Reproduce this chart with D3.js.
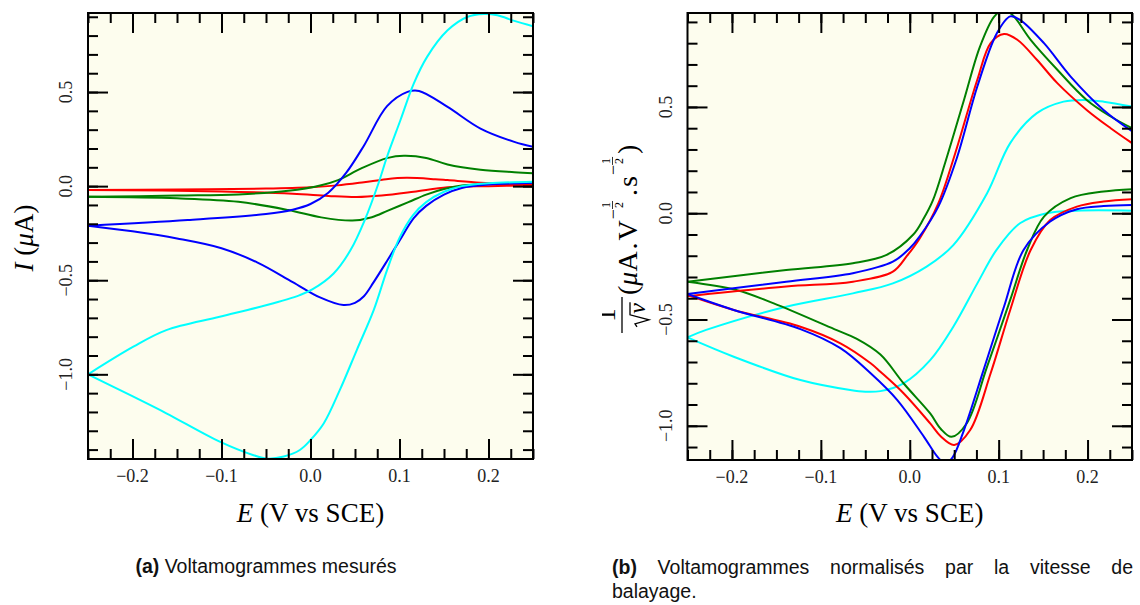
<!DOCTYPE html>
<html>
<head>
<meta charset="utf-8">
<script src="https://cdn.jsdelivr.net/npm/d3@7"></script>
<style>
body { margin: 0; background: #fff; }
svg { display: block; }
</style>
</head>
<body>
<script>
// scan rates, slowest to fastest
var scanColors = ["red", "green", "blue", "cyan"];

// (a) measured voltammograms, [E (V vs SCE), I (uA)]
var measRedFwd = [[-0.25,-0.020],[-0.15,-0.018],[-0.05,-0.013],[0.0,-0.006],[0.03,0.004],[0.06,0.021],[0.085,0.037],[0.108,0.044],[0.14,0.037],[0.154,0.032],[0.191,0.018],[0.229,0.009],[0.25,0.007]];
var measRedRev = [[0.25,0.003],[0.2,0.0],[0.154,-0.006],[0.116,-0.030],[0.08,-0.050],[0.052,-0.058],[0.02,-0.052],[-0.02,-0.040],[-0.1,-0.028],[-0.25,-0.020]];
var measGreenFwd = [[-0.25,-0.057],[-0.15,-0.050],[-0.081,-0.044],[-0.025,-0.025],[0.012,0.005],[0.031,0.032],[0.057,0.094],[0.087,0.150],[0.105,0.161],[0.13,0.150],[0.154,0.115],[0.191,0.087],[0.229,0.074],[0.25,0.069]];
var measGreenRev = [[0.25,0.018],[0.2,0.013],[0.17,0.003],[0.15,-0.015],[0.13,-0.045],[0.11,-0.085],[0.087,-0.130],[0.069,-0.165],[0.047,-0.183],[0.012,-0.166],[-0.025,-0.127],[-0.081,-0.083],[-0.15,-0.065],[-0.25,-0.057]];
var measBlueFwd = [[-0.25,-0.210],[-0.138,-0.180],[-0.05,-0.148],[-0.02,-0.125],[0.0,-0.095],[0.02,-0.035],[0.04,0.070],[0.06,0.215],[0.086,0.425],[0.109,0.501],[0.122,0.506],[0.154,0.421],[0.191,0.306],[0.229,0.235],[0.25,0.209]];
var measBlueRev = [[0.25,0.018],[0.2,0.008],[0.17,-0.010],[0.15,-0.045],[0.13,-0.105],[0.116,-0.170],[0.1,-0.290],[0.087,-0.390],[0.071,-0.510],[0.06,-0.585],[0.05,-0.620],[0.037,-0.632],[0.01,-0.590],[-0.02,-0.510],[-0.06,-0.405],[-0.1,-0.330],[-0.15,-0.278],[-0.2,-0.240],[-0.25,-0.210]];
var measCyanFwd = [[-0.25,-1.0],[-0.199,-0.853],[-0.162,-0.765],[-0.102,-0.694],[-0.049,-0.632],[-0.012,-0.579],[0.002,-0.549],[0.026,-0.464],[0.045,-0.340],[0.061,-0.180],[0.076,0.010],[0.086,0.156],[0.101,0.350],[0.116,0.545],[0.131,0.687],[0.154,0.828],[0.176,0.899],[0.195,0.915],[0.21,0.908],[0.229,0.878],[0.25,0.850]];
var measCyanRev = [[0.25,0.023],[0.2,0.015],[0.17,0.0],[0.15,-0.030],[0.13,-0.085],[0.115,-0.155],[0.1,-0.275],[0.086,-0.446],[0.071,-0.659],[0.052,-0.871],[0.033,-1.083],[0.015,-1.260],[0.0,-1.349],[-0.012,-1.402],[-0.03,-1.437],[-0.049,-1.448],[-0.064,-1.430],[-0.102,-1.358],[-0.162,-1.207],[-0.199,-1.119],[-0.25,-1.0]];

// (b) normalised by sqrt(scan rate)
var normRedFwd = [[-0.25,-0.390],[-0.139,-0.345],[-0.064,-0.322],[-0.019,-0.275],[-0.003,-0.200],[0.011,-0.120],[0.032,0.045],[0.051,0.280],[0.076,0.628],[0.091,0.800],[0.106,0.843],[0.121,0.816],[0.143,0.722],[0.166,0.612],[0.199,0.486],[0.226,0.400],[0.25,0.330]];
var normRedRev = [[0.25,0.066],[0.218,0.055],[0.188,0.031],[0.158,-0.032],[0.136,-0.173],[0.113,-0.455],[0.091,-0.753],[0.068,-1.020],[0.05,-1.090],[0.035,-1.050],[0.023,-0.989],[-0.007,-0.847],[-0.033,-0.746],[-0.044,-0.706],[-0.078,-0.612],[-0.123,-0.534],[-0.198,-0.455],[-0.25,-0.385]];
var normGreenFwd = [[-0.25,-0.322],[-0.139,-0.267],[-0.064,-0.235],[-0.026,-0.196],[0.004,-0.100],[0.015,-0.030],[0.026,0.060],[0.040,0.240],[0.061,0.533],[0.079,0.784],[0.095,0.925],[0.105,0.955],[0.115,0.935],[0.136,0.816],[0.166,0.675],[0.199,0.533],[0.226,0.455],[0.25,0.400]];
var normGreenRev = [[0.25,0.113],[0.218,0.102],[0.181,0.071],[0.151,-0.016],[0.132,-0.173],[0.113,-0.408],[0.087,-0.722],[0.064,-0.989],[0.047,-1.052],[0.035,-1.015],[0.023,-0.942],[-0.007,-0.800],[-0.033,-0.665],[-0.06,-0.590],[-0.085,-0.545],[-0.153,-0.424],[-0.195,-0.361],[-0.25,-0.322]];
var normBlueFwd = [[-0.25,-0.380],[-0.139,-0.322],[-0.064,-0.282],[-0.019,-0.228],[0.0,-0.165],[0.011,-0.110],[0.032,0.030],[0.053,0.260],[0.076,0.596],[0.098,0.847],[0.113,0.926],[0.124,0.910],[0.151,0.800],[0.181,0.643],[0.218,0.486],[0.25,0.386]];
var normBlueRev = [[0.25,0.039],[0.218,0.034],[0.188,0.019],[0.158,-0.039],[0.128,-0.173],[0.106,-0.440],[0.083,-0.738],[0.061,-1.020],[0.048,-1.150],[0.04,-1.175],[0.032,-1.150],[0.016,-1.052],[-0.014,-0.879],[-0.044,-0.753],[-0.078,-0.635],[-0.123,-0.545],[-0.198,-0.455],[-0.25,-0.380]];
var normCyanFwd = [[-0.25,-0.584],[-0.229,-0.549],[-0.139,-0.440],[-0.064,-0.377],[-0.019,-0.330],[0.019,-0.251],[0.049,-0.150],[0.087,0.094],[0.113,0.330],[0.143,0.471],[0.173,0.525],[0.196,0.533],[0.218,0.525],[0.25,0.502]];
var normCyanRev = [[0.25,0.012],[0.188,0.012],[0.154,0.0],[0.124,-0.047],[0.098,-0.170],[0.076,-0.330],[0.049,-0.534],[0.023,-0.691],[-0.007,-0.800],[-0.033,-0.837],[-0.05,-0.840],[-0.067,-0.832],[-0.123,-0.785],[-0.198,-0.675],[-0.25,-0.584]];

// tick values
var xMajor = [-0.2, -0.1, 0.0, 0.1, 0.2];
var xMinor = d3.range(-10, 11).map(k => k * 0.025);
var yMajor = [-1.0, -0.5, 0.0, 0.5];

var svg = d3.select("body").append("svg")
    .attr("width", 1140)
    .attr("height", 605);
var defs = svg.append("defs");

var fmt = d3.format(".1f");

function panel(id, xr, yDomain, yr, series, labelX) {
    var x = d3.scaleLinear([-0.25, 0.25], xr);
    var y = d3.scaleLinear(yDomain, yr);
    var g = svg.append("g");

    g.append("rect")
        .attr("x", xr[0]).attr("y", yr[1])
        .attr("width", xr[1] - xr[0]).attr("height", yr[0] - yr[1])
        .attr("fill", "#fdfdee");

    defs.append("clipPath").attr("id", "clip" + id)
        .append("rect")
        .attr("x", xr[0]).attr("y", yr[1])
        .attr("width", xr[1] - xr[0]).attr("height", yr[0] - yr[1]);

    var line = d3.line()
        .x(d => x(d[0]))
        .y(d => y(d[1]))
        .curve(d3.curveCatmullRom.alpha(0.5));

    var curves = g.append("g").attr("clip-path", "url(#clip" + id + ")")
        .attr("fill", "none").attr("stroke-width", 2);
    series.forEach(s => {
        curves.append("path").attr("stroke", s.color).attr("d", line(s.fwd));
        curves.append("path").attr("stroke", s.color).attr("d", line(s.rev));
    });

    var yMinor = d3.range(-15, 10).map(k => k / 10)
        .filter(v => v >= yDomain[0] && v <= yDomain[1]);

    function ticks(axisFn, scale, values, size, tr) {
        var a = g.append("g").attr("transform", tr)
            .call(axisFn(scale).tickValues(values).tickSize(-size).tickFormat(""));
        a.select(".domain").remove();
        a.selectAll("line").attr("stroke", "#000").attr("stroke-width", 2);
    }
    [[xMinor, 10], [xMajor, 20]].forEach(([v, s]) => {
        ticks(d3.axisBottom, x, v, s, `translate(0,${yr[0]})`);
        ticks(d3.axisTop, x, v, s, `translate(0,${yr[1]})`);
    });
    [[yMinor, 10], [yMajor, 20]].forEach(([v, s]) => {
        ticks(d3.axisLeft, y, v, s, `translate(${xr[0]},0)`);
        ticks(d3.axisRight, y, v, s, `translate(${xr[1]},0)`);
    });

    g.append("rect")
        .attr("x", xr[0]).attr("y", yr[1])
        .attr("width", xr[1] - xr[0]).attr("height", yr[0] - yr[1])
        .attr("fill", "none").attr("stroke", "#000").attr("stroke-width", 2);

    // tick labels
    g.append("g").selectAll("text").data(xMajor).join("text")
        .attr("x", d => x(d)).attr("y", yr[0] + 23)
        .attr("text-anchor", "middle")
        .attr("font-family", "Liberation Serif").attr("font-size", 18)
        .attr("fill", "#222")
        .text(d => fmt(d));
    g.append("g").selectAll("text").data(yMajor).join("text")
        .attr("transform", d => `translate(${labelX},${y(d)}) rotate(-90)`)
        .attr("text-anchor", "middle")
        .attr("font-family", "Liberation Serif").attr("font-size", 18)
        .attr("fill", "#222")
        .text(d => fmt(d));

    // x title
    var t = g.append("text")
        .attr("x", x(0)).attr("y", 522)
        .attr("text-anchor", "middle")
        .attr("font-family", "Liberation Serif").attr("font-size", 27);
    t.append("tspan").attr("font-style", "italic").text("E");
    t.append("tspan").text(" (V vs SCE)");
    return g;
}

panel("a", [88, 533], [-1.45, 0.92], [459, 13], [
    { color: scanColors[0], fwd: measRedFwd, rev: measRedRev },
    { color: scanColors[1], fwd: measGreenFwd, rev: measGreenRev },
    { color: scanColors[2], fwd: measBlueFwd, rev: measBlueRev },
    { color: scanColors[3], fwd: measCyanFwd, rev: measCyanRev }
], 72);

panel("b", [687.5, 1132], [-1.161, 0.942], [460, 13], [
    { color: scanColors[3], fwd: normCyanFwd, rev: normCyanRev },
    { color: scanColors[1], fwd: normGreenFwd, rev: normGreenRev },
    { color: scanColors[0], fwd: normRedFwd, rev: normRedRev },
    { color: scanColors[2], fwd: normBlueFwd, rev: normBlueRev }
], 672);

// y title (a)
var ya = svg.append("text")
    .attr("transform", "translate(33,238) rotate(-90)")
    .attr("text-anchor", "middle")
    .attr("font-family", "Liberation Serif").attr("font-size", 27);
ya.append("tspan").attr("font-style", "italic").text("I");
ya.append("tspan").text(" (");
ya.append("tspan").attr("font-style", "italic").text("\u03bc");
ya.append("tspan").text("A)");

// y title (b): 1/sqrt(v) (uA.V^-1/2.s^-1/2)
defs.append("clipPath").attr("id", "clipLab")
    .append("rect").attr("x", 602).attr("y", 0).attr("width", 538).attr("height", 605);
var yb = svg.append("g").attr("clip-path", "url(#clipLab)")
    .append("g").attr("transform", "translate(637,335) rotate(-90)")
    .attr("font-family", "Liberation Serif");

// fraction 1 / sqrt(v)
yb.append("line").attr("x1", 2).attr("x2", 38).attr("y1", -15).attr("y2", -15)
    .attr("stroke", "#000").attr("stroke-width", 1.3);
yb.append("text").attr("x", 20).attr("y", -22).attr("text-anchor", "middle")
    .attr("font-size", 27).text("1");
var vv = yb.append("text").attr("y", 8).attr("font-size", 24)
    .attr("font-style", "italic").text("v");
var vw = vv.node().getComputedTextLength();
var rx0 = 20 - (vw + 13) / 2;
vv.attr("x", rx0 + 13);
yb.append("path")
    .attr("d", `M${rx0},0 L${rx0 + 3},-2 L${rx0 + 7},12 L${rx0 + 12},-7 L${rx0 + 14 + vw},-7`)
    .attr("fill", "none").attr("stroke", "#000").attr("stroke-width", 1.3);

// units
var pos = 40;
function piece(txt, size, raise, italic) {
    var el = yb.append("text").attr("x", pos).attr("y", -raise)
        .attr("font-size", size).text(txt);
    if (italic) el.attr("font-style", "italic");
    return el.node().getComputedTextLength();
}
function word(txt, italic, pad) {
    pos += pad || 0;
    pos += piece(txt, 28, 0, italic);
    pos += pad || 0;
}
function supHalf() {
    pos += 1;
    pos += piece("\u2212", 18, 18, false);
    var w = 8;
    yb.append("text").attr("x", pos + w / 2).attr("y", -27).attr("text-anchor", "middle")
        .attr("font-size", 12).text("1");
    yb.append("text").attr("x", pos + w / 2).attr("y", -14).attr("text-anchor", "middle")
        .attr("font-size", 12).text("2");
    yb.append("line").attr("x1", pos).attr("x2", pos + w).attr("y1", -24.5).attr("y2", -24.5)
        .attr("stroke", "#000").attr("stroke-width", 0.8);
    pos += w + 3;
}
word("(");
word("\u03bc", true);
word("A");
word(".", false, 2);
word("V");
supHalf();
word(".", false, 2);
word("s");
supHalf();
word(")");

// captions
var capA = svg.append("text")
    .attr("x", 266).attr("y", 573)
    .attr("text-anchor", "middle")
    .attr("font-family", "Liberation Sans").attr("font-size", 19.5)
    .attr("fill", "#111");
capA.append("tspan").attr("font-weight", "bold").text("(a)");
capA.append("tspan").text(" Voltamogrammes mesurés");

// justified first line of caption (b)
var capWords = ["(b)", "Voltamogrammes", "normalisés", "par", "la", "vitesse", "de"];
var capB = svg.append("g")
    .attr("font-family", "Liberation Sans").attr("font-size", 19.5).attr("fill", "#111");
var widths = capWords.map((w, i) => {
    var el = capB.append("text").attr("y", 574).text(w);
    if (i === 0) el.attr("font-weight", "bold");
    return el.node().getComputedTextLength();
});
var gap = (1133 - 612 - d3.sum(widths)) / (capWords.length - 1);
var cx = 612;
capB.selectAll("text").each(function (d, i) {
    d3.select(this).attr("x", cx);
    cx += widths[i] + gap;
});
capB.append("text").attr("x", 612).attr("y", 598).text("balayage.");
</script>
</body>
</html>
